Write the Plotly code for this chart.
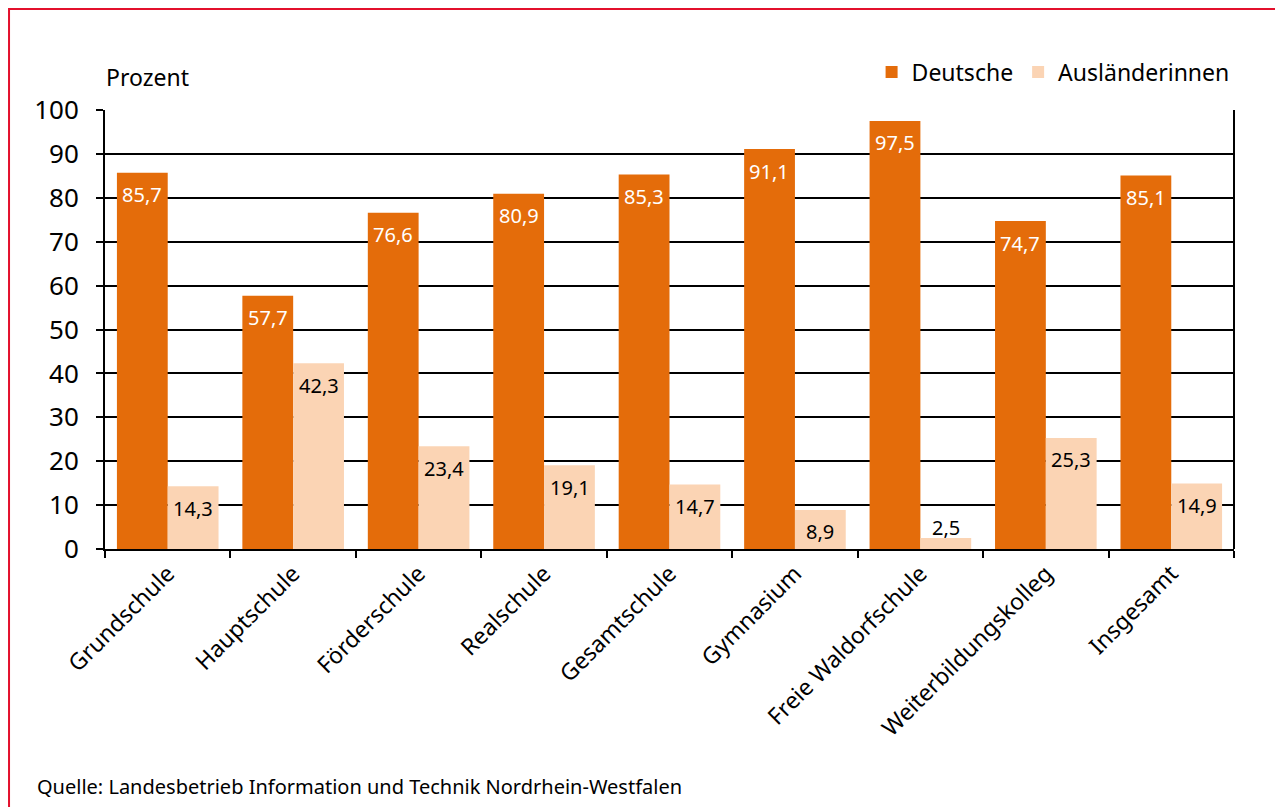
import plotly.graph_objects as go

categories = ["Grundschule", "Hauptschule", "Förderschule", "Realschule", "Gesamtschule",
              "Gymnasium", "Freie Waldorfschule", "Weiterbildungskolleg", "Insgesamt"]
deutsche = [85.7, 57.7, 76.6, 80.9, 85.3, 91.1, 97.5, 74.7, 85.1]
auslaender = [14.3, 42.3, 23.4, 19.1, 14.7, 8.9, 2.5, 25.3, 14.9]
y_ticks = [0, 10, 20, 30, 40, 50, 60, 70, 80, 90, 100]

C_DE = "#E46C0A"
C_AU = "#FBD4B4"
FONT = "Noto Sans"

fig = go.Figure()
fig.add_trace(go.Bar(name="Deutsche", x=categories, y=deutsche, marker_color=C_DE,
                     marker_line_width=0))
fig.add_trace(go.Bar(name="Ausländerinnen", x=categories, y=auslaender, marker_color=C_AU,
                     marker_line_width=0))

def fmt(v):
    return f"{v:.1f}".replace(".", ",")

annotations = []
for cat, v in zip(categories, deutsche):
    annotations.append(dict(x=cat, y=v, xref="x", yref="y", text=fmt(v), showarrow=False,
                            xshift=-25.5, yshift=-22 if v > 5 else 11, yanchor="middle",
                            font=dict(family=FONT, size=20, color="white" if v > 5 else "black")))
for cat, v in zip(categories, auslaender):
    annotations.append(dict(x=cat, y=v, xref="x", yref="y", text=fmt(v), showarrow=False,
                            xshift=25.5, yshift=-22 if v > 5 else 11, yanchor="middle",
                            font=dict(family=FONT, size=20, color="black")))

annotations.append(dict(x=0, y=1.075, xref="paper", yref="paper", text="Prozent", showarrow=False,
                        xanchor="left", yanchor="middle", xshift=-1,
                        font=dict(family=FONT, size=23, color="black")))
annotations.append(dict(x=-0.0593, y=-0.542, xref="paper", yref="paper",
                        text="Quelle: Landesbetrieb Information und Technik Nordrhein-Westfalen",
                        showarrow=False, xanchor="left", yanchor="middle", xshift=-3,
                        font=dict(family=FONT, size=20, color="black")))

fig.update_layout(
    width=1275, height=799,
    margin=dict(l=97, r=49, t=102, b=258),
    paper_bgcolor="white", plot_bgcolor="white",
    barmode="group", bargap=0.19, bargroupgap=0,
    font=dict(family=FONT, color="black"),
    showlegend=True,
    legend=dict(orientation="h", x=0.679, y=1.0866, xanchor="left", yanchor="middle",
                font=dict(family=FONT, size=23, color="black"), bgcolor="rgba(0,0,0,0)",
                itemwidth=30),
    annotations=annotations,
    shapes=[dict(type="rect", xref="paper", yref="paper",
                 x0=-0.0850, x1=1.0416, y0=-0.62, y1=1.2301,
                 line=dict(color="#E3102C", width=2), fillcolor="rgba(0,0,0,0)", layer="above")],
)
fig.update_yaxes(range=[0, 100], tickvals=y_ticks, ticks="outside", ticklen=7, tickwidth=2,
                 tickcolor="black", showline=True, linecolor="black", linewidth=2,
                 showgrid=True, gridcolor="black", gridwidth=1.5, zeroline=False,
                 ticklabelstandoff=12,
                 tickfont=dict(family=FONT, size=26, color="black"), mirror=False)
fig.update_xaxes(tickson="boundaries", ticks="outside", ticklen=7, tickwidth=2, tickcolor="black",
                 showline=True, linecolor="black", linewidth=2, tickangle=-45,
                 tickfont=dict(family=FONT, size=23, color="black"), showgrid=False)
# right frame line of the plot area
fig.add_shape(type="line", xref="paper", yref="paper", x0=1, x1=1, y0=0, y1=1,
              line=dict(color="black", width=2), layer="above")

fig.write_html("out.html")
